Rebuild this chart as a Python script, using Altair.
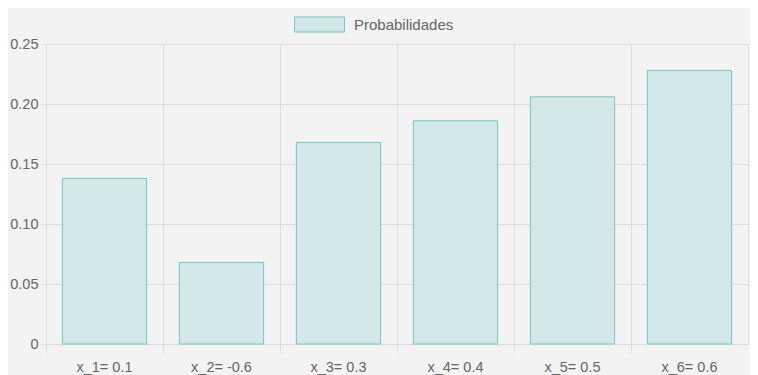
import altair as alt
import pandas as pd

labels = ["x_1= 0.1", "x_2= -0.6", "x_3= 0.3", "x_4= 0.4", "x_5= 0.5", "x_6= 0.6"]
probs = [0.138, 0.068, 0.168, 0.186, 0.206, 0.228]
series = ["Probabilidades"] * len(labels)
y_ticks = [0, 0.05, 0.10, 0.15, 0.20, 0.25]

df = pd.DataFrame({"label": labels, "p": probs, "serie": series})

FONT = "Liberation Sans"
GRID = "#dcdcdc"
TXT = "#666666"
FILL = "#d2e8e9"
STROKE = "#76c4c5"

bars = alt.Chart(df).mark_bar(
    stroke=STROKE, strokeWidth=1, width=alt.RelativeBandSize(0.72)
).encode(
    x=alt.X("label:N", sort=labels, title=None,
            scale=alt.Scale(paddingInner=0, paddingOuter=0),
            axis=alt.Axis(bandPosition=0, grid=True, gridColor=GRID, domainColor=GRID,
                          tickColor=GRID, tickSize=9, labelPadding=7, labelAngle=0,
                          labelFontSize=14.5, labelColor=TXT, labelFont=FONT)),
    y=alt.Y("p:Q", title=None,
            scale=alt.Scale(domain=[0, 0.25], nice=False),
            axis=alt.Axis(values=y_ticks, grid=True, gridColor=GRID, domainColor=GRID,
                          tickColor=GRID, tickSize=5, labelPadding=3,
                          labelExpr="datum.value == 0 ? '0' : format(datum.value, '.2f')",
                          labelFontSize=14.5, labelColor=TXT, labelFont=FONT)),
    color=alt.Color("serie:N", scale=alt.Scale(range=[FILL]),
                    legend=alt.Legend(orient="none", legendX=248, legendY=-45, title=None,
                                      padding=0,
                                      symbolType="M-1,-0.3H1V0.3H-1Z", symbolSize=2500,
                                      symbolStrokeColor=STROKE, symbolStrokeWidth=1,
                                      symbolOpacity=1,
                                      labelFontSize=15, labelColor=TXT, labelFont=FONT,
                                      labelOffset=9)),
)

chart = bars.properties(
    width=702, height=300,
    autosize=alt.AutoSizeParams(type="none"),
    padding={"left": 38, "top": 36, "right": 2, "bottom": 31},
    background="#f3f3f3",
).configure_view(stroke=GRID)

chart.save("out.html", embed_options={"renderer": "svg", "actions": False})
